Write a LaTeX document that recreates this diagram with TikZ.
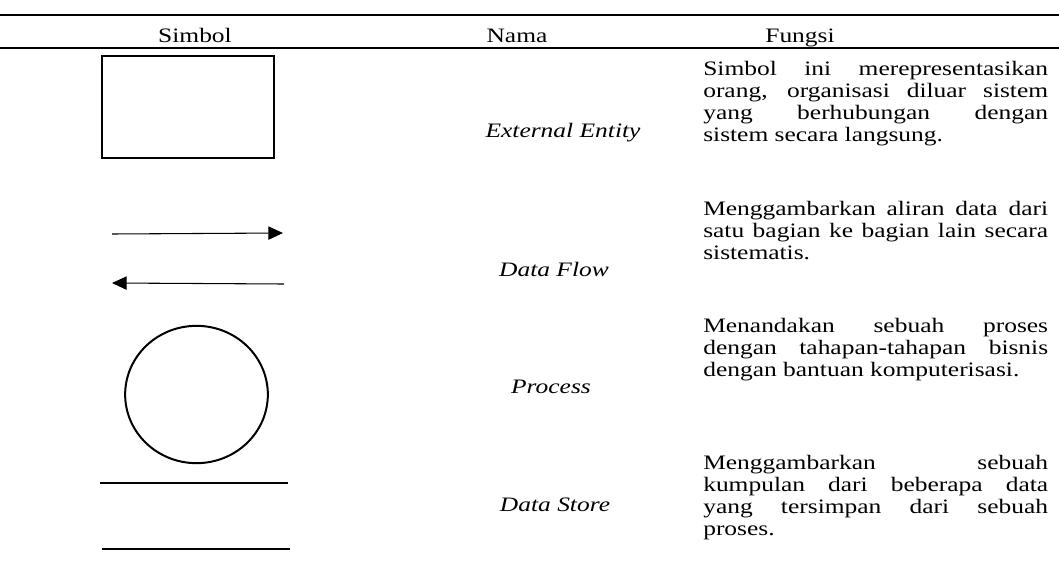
\documentclass[tikz,border=0pt]{standalone}
\usepackage{fontspec}
\usepackage{graphicx}
\setmainfont{Liberation Serif}
\usetikzlibrary{arrows.meta,shapes.geometric}
\newcommand{\bodyfont}{\fontsize{15.4}{16.5}\selectfont}
\newcommand{\wide}[1]{\scalebox{1.24}[1]{#1}}
\newcommand{\fpar}[1]{\wide{\begin{minipage}[t]{208.6pt}\bodyfont\parindent=0pt #1\end{minipage}}}
\begin{document}
\begin{tikzpicture}[x=0.75pt,y=-0.75pt,
  txt/.style={inner sep=0pt,font=\bodyfont},
  head/.style={txt,anchor=base},
  nama/.style={txt,anchor=base,font=\bodyfont\itshape},
  fungsi/.style={txt,anchor=base west},
  rule/.style={line width=1.6pt},
  shp/.style={draw,line width=1.5pt,inner sep=0pt},
  flow/.style={line width=0.8pt,-{Triangle[length=11pt,width=10pt]}},
  storeline/.style={line width=0.8pt}]
\useasboundingbox (0,0) rectangle (1059,567);
% rules
\coordinate (r1a) at (0,15); \coordinate (r1b) at (1059,15);
\coordinate (r2a) at (0,48); \coordinate (r2b) at (1059,48);
\draw[rule] (r1a) -- (r1b);
\draw[rule] (r2a) -- (r2b);
% headers
\node[head] (h1) at (195,43) {\wide{Simbol}};
\node[head] (h2) at (517,43) {\wide{Nama}};
\node[head] (h3) at (800,43) {\wide{Fungsi}};
% symbols
\node[shp,rectangle,minimum width=129pt,minimum height=76.5pt] (ent) at (188,107) {};
\coordinate (f1a) at (112,234); \coordinate (f1b) at (283,233);
\coordinate (f2a) at (284,284); \coordinate (f2b) at (112,283);
\draw[flow] (f1a) -- (f1b);
\draw[flow] (f2a) -- (f2b);
\node[shp,ellipse,minimum width=107pt,minimum height=103pt] (proc) at (196.5,394.5) {};
\coordinate (s1a) at (100,483); \coordinate (s1b) at (288,483);
\coordinate (s2a) at (102,549); \coordinate (s2b) at (290,549);
\draw[storeline] (s1a) -- (s1b);
\draw[storeline] (s2a) -- (s2b);
% names
\node[nama] (n1) at (563,137) {\wide{External Entity}};
\node[nama] (n2) at (554,276) {\wide{Data Flow}};
\node[nama] (n3) at (551,393) {\wide{Process}};
\node[nama] (n4) at (555,511) {\wide{Data Store}};
% functions
\node[fungsi] (d1) at (703,75) {\fpar{Simbol ini merepresentasikan\linebreak orang, organisasi diluar sistem\linebreak yang berhubungan dengan\linebreak sistem secara langsung.}};
\node[fungsi] (d2) at (703,215) {\fpar{Menggambarkan aliran data dari\linebreak satu bagian ke bagian lain secara\linebreak sistematis.}};
\node[fungsi] (d3) at (703,332) {\fpar{Menandakan sebuah proses\linebreak dengan tahapan-tahapan bisnis\linebreak dengan bantuan komputerisasi.}};
\node[fungsi] (d4) at (703,469) {\fpar{Menggambarkan sebuah\linebreak kumpulan dari beberapa data\linebreak yang tersimpan dari sebuah\linebreak proses.}};
\end{tikzpicture}
\end{document}
